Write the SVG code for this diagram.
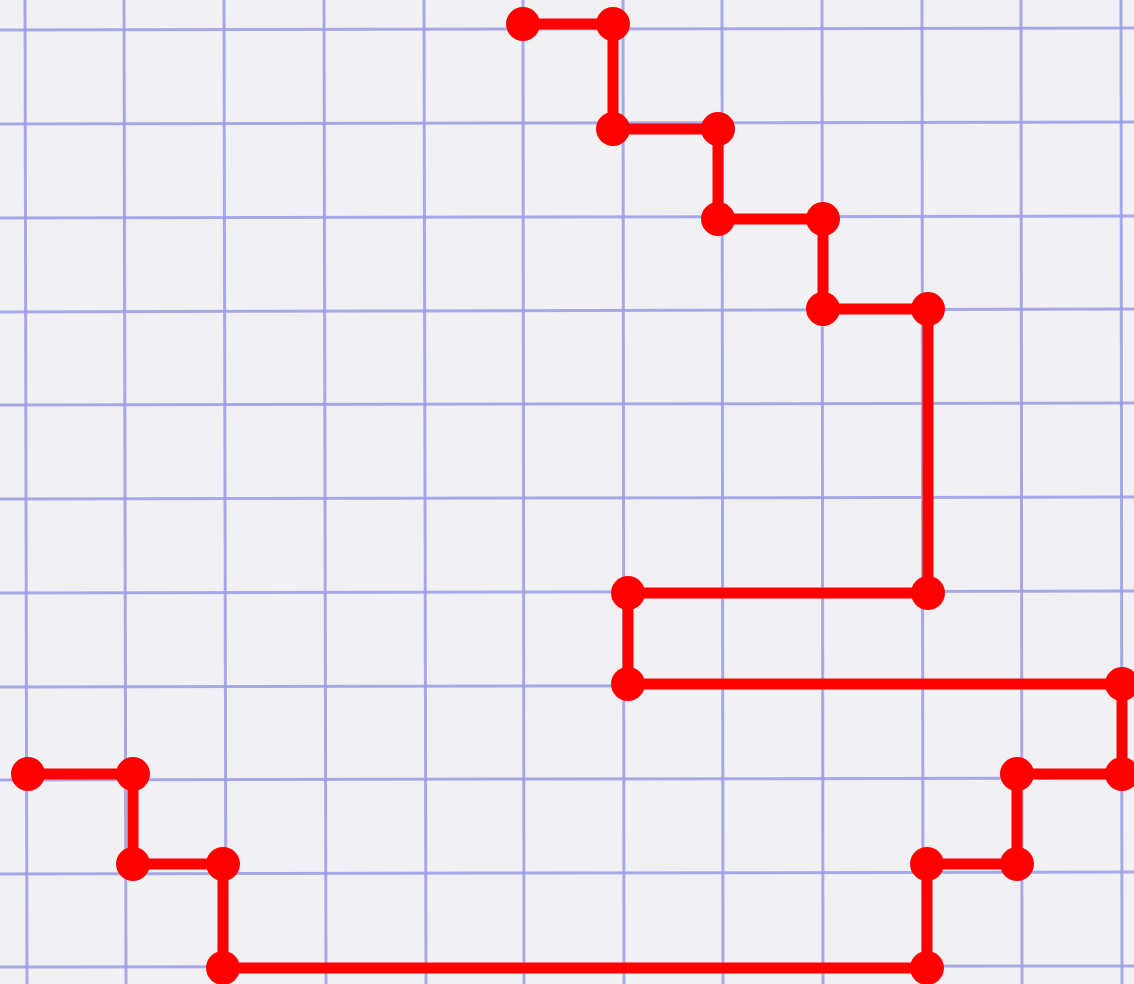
<svg xmlns="http://www.w3.org/2000/svg" width="1134" height="984" viewBox="0 0 1134 984">
<style>
.g line{stroke:#9c9ce6;stroke-width:3;opacity:0.85}
.p{fill:none;stroke:#ff0000;stroke-width:11;stroke-linejoin:miter}
.d circle{fill:#ff0000}
</style>
<rect width="1134" height="984" fill="#f1f1f4"/>
<g class="g" id="grid">
<line x1="25" y1="0" x2="27" y2="984"/>
<line x1="124" y1="0" x2="126" y2="984"/>
<line x1="224" y1="0" x2="226" y2="984"/>
<line x1="324" y1="0" x2="326" y2="984"/>
<line x1="424" y1="0" x2="426" y2="984"/>
<line x1="523" y1="0" x2="524" y2="984"/>
<line x1="623" y1="0" x2="624" y2="984"/>
<line x1="722" y1="0" x2="723" y2="984"/>
<line x1="822" y1="0" x2="823" y2="984"/>
<line x1="922" y1="0" x2="923" y2="984"/>
<line x1="1021" y1="0" x2="1022" y2="984"/>
<line x1="1121" y1="0" x2="1122" y2="984"/>
<line x1="0" y1="30" x2="1134" y2="28"/>
<line x1="0" y1="124" x2="1134" y2="122"/>
<line x1="0" y1="218" x2="1134" y2="216"/>
<line x1="0" y1="312" x2="1134" y2="309"/>
<line x1="0" y1="405" x2="1134" y2="403"/>
<line x1="0" y1="499" x2="1134" y2="497"/>
<line x1="0" y1="593" x2="1134" y2="591"/>
<line x1="0" y1="687" x2="1134" y2="685"/>
<line x1="0" y1="780" x2="1134" y2="778"/>
<line x1="0" y1="874" x2="1134" y2="872"/>
<line x1="0" y1="967" x2="1134" y2="966"/>
</g>
<g id="connectors">
<polyline class="p" points="523,24 613,24 613,129 718,129 718,219 823,219 823,309 928,309 928,593 628,593 628,684 1122,684 1122,774 1017,774 1017,864 927,864 927,968 223,968 223,864 133,864 133,774 28,774"/>
</g>
<g class="d" id="nodes">
<circle id="n1" cx="523" cy="24" r="17"/>
<circle id="n2" cx="613" cy="24" r="17"/>
<circle id="n3" cx="613" cy="129" r="17"/>
<circle id="n4" cx="718" cy="129" r="17"/>
<circle id="n5" cx="718" cy="219" r="17"/>
<circle id="n6" cx="823" cy="219" r="17"/>
<circle id="n7" cx="823" cy="309" r="17"/>
<circle id="n8" cx="928" cy="309" r="17"/>
<circle id="n9" cx="928" cy="593" r="17"/>
<circle id="n10" cx="628" cy="593" r="17"/>
<circle id="n11" cx="628" cy="684" r="17"/>
<circle id="n12" cx="1122" cy="684" r="17"/>
<circle id="n13" cx="1122" cy="774" r="17"/>
<circle id="n14" cx="1017" cy="774" r="17"/>
<circle id="n15" cx="1017" cy="864" r="17"/>
<circle id="n16" cx="927" cy="864" r="17"/>
<circle id="n17" cx="927" cy="968" r="17"/>
<circle id="n18" cx="223" cy="968" r="17"/>
<circle id="n19" cx="223" cy="864" r="17"/>
<circle id="n20" cx="133" cy="864" r="17"/>
<circle id="n21" cx="133" cy="774" r="17"/>
<circle id="n22" cx="28" cy="774" r="17"/>
</g>
</svg>
